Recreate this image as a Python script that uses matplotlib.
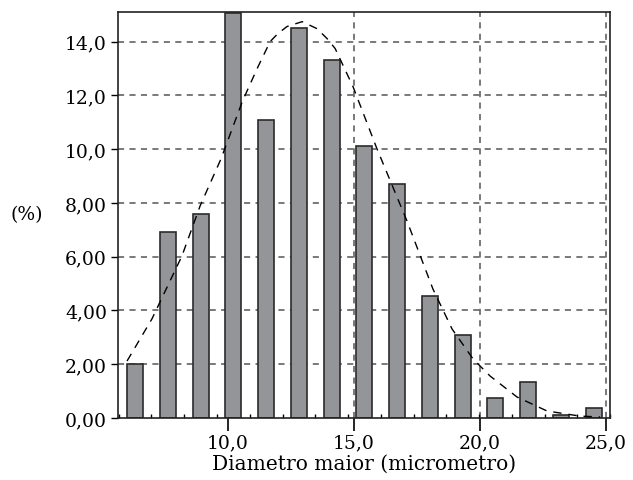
import matplotlib.pyplot as plt
import matplotlib.ticker as mticker

# histogram classes (centre of each class, micrometro)
centros = [6.31, 7.61, 8.91, 10.21, 11.51, 12.81, 14.11, 15.41,
           16.71, 18.01, 19.31, 20.61, 21.91, 23.21, 24.51]
limites = [5.66, 6.96, 8.26, 9.56, 10.86, 12.16, 13.46, 14.76, 16.06,
           17.36, 18.66, 19.96, 21.26, 22.56, 23.86, 25.16]
percent = [2.0, 6.92, 7.6, 15.05, 11.1, 14.5, 13.3, 10.1,
           8.7, 4.55, 3.1, 0.75, 1.35, 0.12, 0.38]

# dashed fitted curve
curva_x = [5.99, 6.98, 8.17, 8.89, 9.72, 10.56, 11.15, 11.67, 11.98, 12.34,
           12.94, 13.53, 13.93, 14.25, 14.96, 15.91, 17.10, 18.13, 18.89,
           19.72, 20.40, 21.47, 22.66, 23.97, 24.76]
curva_y = [2.12, 3.69, 6.03, 7.89, 9.64, 11.76, 12.99, 14.0, 14.30, 14.56,
           14.74, 14.48, 14.11, 13.74, 12.32, 10.01, 7.33, 4.80, 3.31,
           2.20, 1.56, 0.78, 0.26, 0.07, 0.04]

xticks = [10, 15, 20, 25]
xlabels = ["10,0", "15,0", "20,0", "25,0"]
yticks = [0, 2, 4, 6, 8, 10, 12, 14]
ylabels = ["0,00", "2,00", "4,00", "6,00", "8,00", "10,0", "12,0", "14,0"]

plt.rcParams['font.family'] = 'DejaVu Serif'

fig = plt.figure(figsize=(6.33, 4.81), dpi=100)
ax = fig.add_axes([0.1864, 0.1289, 0.7773, 0.8441])

gridcol = '#555555'
for y in yticks[1:]:
    ax.axhline(y, color=gridcol, linestyle=(0, (4, 3.5)), linewidth=1.1, zorder=1)
for x in xticks:
    ax.axvline(x, color=gridcol, linestyle=(0, (4, 3.5)), linewidth=1.1, zorder=1)

ax.bar(centros, percent, width=0.64, color='#939598', edgecolor='#2b2b2b',
       linewidth=1.2, zorder=2)
ax.plot(curva_x, curva_y, color='black', linestyle=(0, (6, 5)), linewidth=1.0, zorder=3)

ax.set_xlim(5.63, 25.16)
ax.set_ylim(0, 15.1)

ax.set_xticks(xticks)
ax.set_xticklabels(xlabels)
ax.set_yticks(yticks)
ax.set_yticklabels(ylabels)
ax.xaxis.set_minor_locator(mticker.FixedLocator(limites))
ax.tick_params(axis='x', which='major', direction='out', length=9, width=1.2,
               labelsize=13.5, pad=2)
ax.tick_params(axis='x', which='minor', direction='in', length=3, width=1.0)
ax.tick_params(axis='y', direction='out', length=5, width=1.0, labelsize=13.5, pad=3)

for s in ax.spines.values():
    s.set_linewidth(1.2)
    s.set_color('#222222')

ax.set_xlabel("Diametro maior (micrometro)", fontsize=14.5, labelpad=2)
fig.text(0.043, 0.553, "(%)", fontsize=13.5, ha='center', va='center')

plt.savefig('out.png', dpi=100)
